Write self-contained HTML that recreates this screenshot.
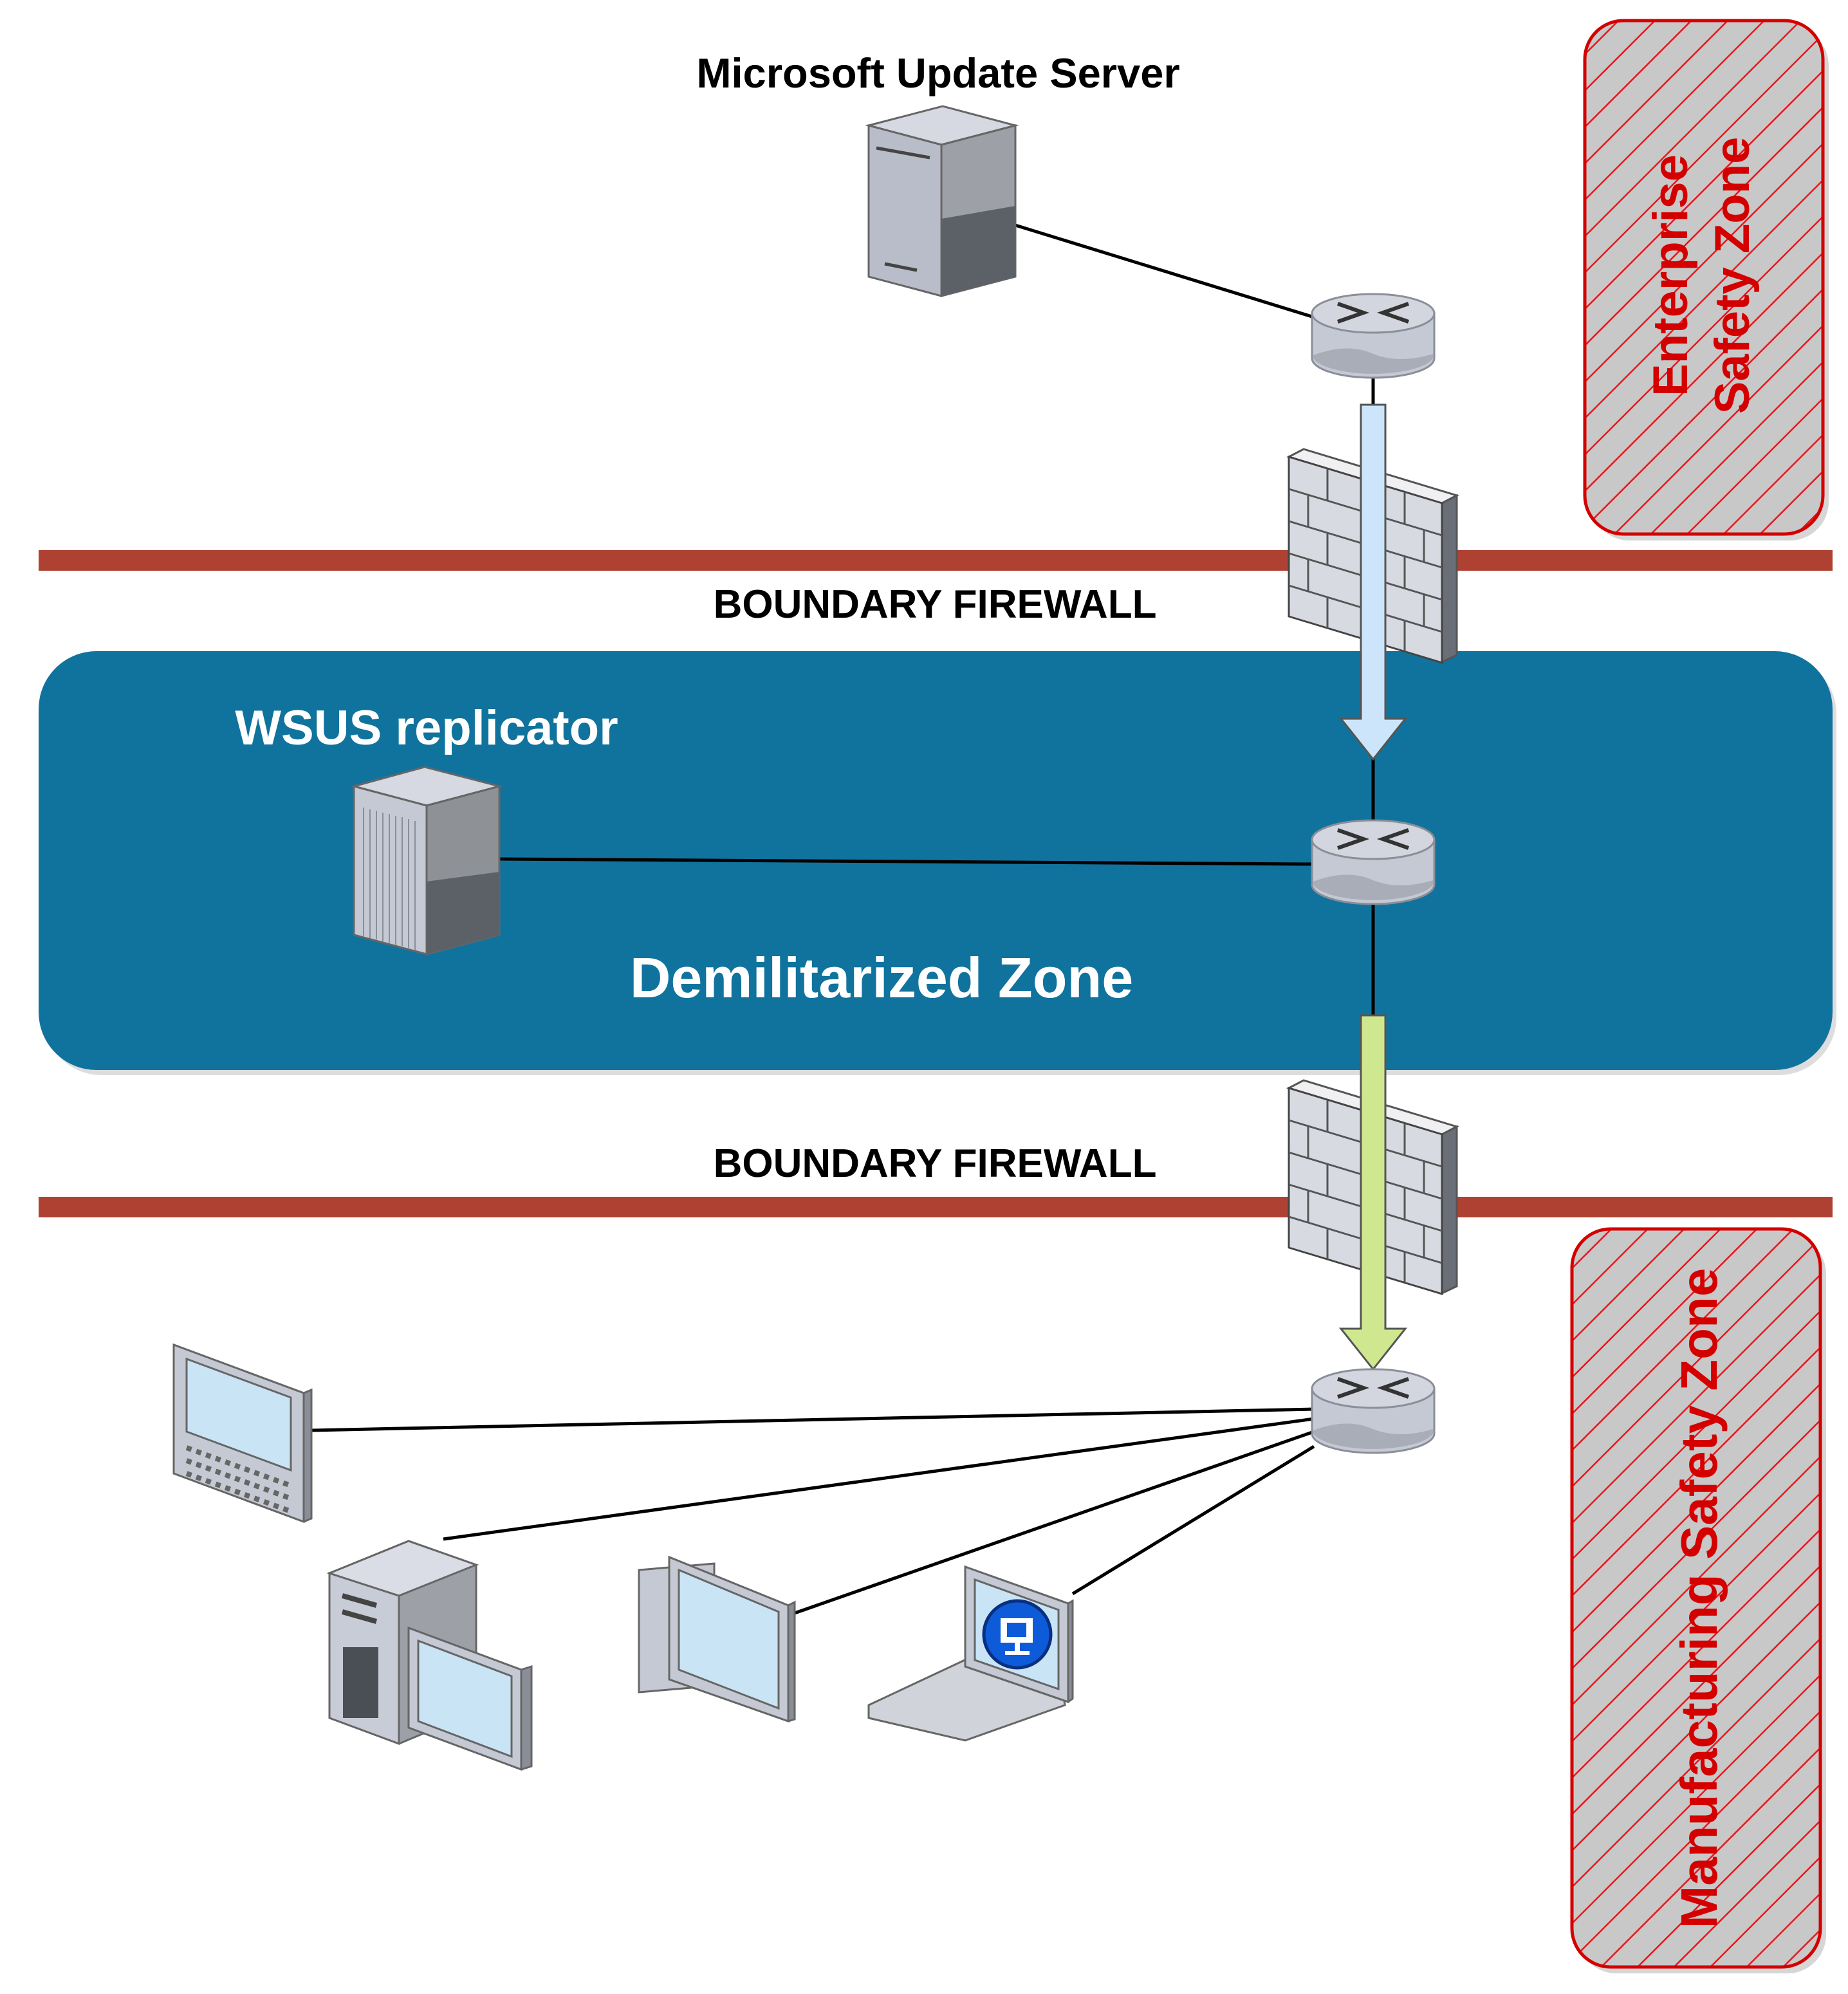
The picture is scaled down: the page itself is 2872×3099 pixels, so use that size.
<!DOCTYPE html>
<html><head><meta charset="utf-8"><style>
html,body{margin:0;padding:0;background:#fff;width:2872px;height:3099px;overflow:hidden}
svg{display:block}
text{font-family:"Liberation Sans",Arial,sans-serif;font-weight:bold}
</style></head><body>
<svg width="2872" height="3099" viewBox="0 0 2872 3099" xmlns="http://www.w3.org/2000/svg">
<defs>
<pattern id="hatch" patternUnits="userSpaceOnUse" width="40" height="40" patternTransform="rotate(45)">
<rect width="40" height="40" fill="#c8c8c8"/>
<line x1="0" y1="0" x2="0" y2="40" stroke="#e8161b" stroke-width="5"/>
</pattern>
<g id="router">
<path d="M-95,-35 L-95,35 A95,30 0 0 0 95,35 L95,-35 Z" fill="#c5c9d3" stroke="#8a8e98" stroke-width="3"/>
<path d="M-93,30 Q-40,10 0,28 Q40,44 93,28 L93,35 A95,30 0 0 1 -93,35 Z" fill="#a8adb8"/>
<ellipse cx="0" cy="-35" rx="95" ry="30" fill="#d3d6df" stroke="#8a8e98" stroke-width="3"/>
<g stroke="#333" stroke-width="6" fill="none">
<path d="M-55,-50 L-15,-36 L-55,-22"/><path d="M55,-50 L15,-36 L55,-22"/>
</g>
</g>
<g id="fw">
<polygon points="2003,710 2026,698 2264,770 2241,782" fill="#f0f0f3" stroke="#555" stroke-width="3"/>
<polygon points="2241,782 2264,770 2264,1018 2241,1029" fill="#6a6e76" stroke="#555" stroke-width="3"/>
<g transform="matrix(1,0.3025,0,1,2003,710)">
<rect x="0" y="0" width="238" height="248" fill="#d8dae2" stroke="#444" stroke-width="3"/>
<g stroke="#555" stroke-width="3">
<line x1="0" y1="50" x2="238" y2="50"/><line x1="0" y1="100" x2="238" y2="100"/>
<line x1="0" y1="150" x2="238" y2="150"/><line x1="0" y1="200" x2="238" y2="200"/>
<line x1="60" y1="0" x2="60" y2="50"/><line x1="180" y1="0" x2="180" y2="50"/>
<line x1="120" y1="50" x2="120" y2="100"/><line x1="30" y1="50" x2="30" y2="100"/><line x1="210" y1="50" x2="210" y2="100"/>
<line x1="60" y1="100" x2="60" y2="150"/><line x1="180" y1="100" x2="180" y2="150"/>
<line x1="120" y1="150" x2="120" y2="200"/><line x1="30" y1="150" x2="30" y2="200"/><line x1="210" y1="150" x2="210" y2="200"/>
<line x1="60" y1="200" x2="60" y2="248"/><line x1="180" y1="200" x2="180" y2="248"/>
</g>
</g>
</g>
</defs>

<!-- Enterprise zone -->
<rect x="2472" y="42" width="370" height="798" rx="60" fill="#bbb" opacity="0.6"/>
<rect x="2463" y="32" width="370" height="798" rx="60" fill="url(#hatch)" stroke="#d40000" stroke-width="5"/>
<text transform="translate(2622,428) rotate(-90)" font-size="76" fill="#d40000" text-anchor="middle">Enterprise</text>
<text transform="translate(2718,428) rotate(-90)" font-size="76" fill="#d40000" text-anchor="middle">Safety Zone</text>

<!-- Manufacturing zone -->
<rect x="2452" y="1920" width="386" height="1147" rx="60" fill="#bbb" opacity="0.6"/>
<rect x="2443" y="1910" width="386" height="1147" rx="60" fill="url(#hatch)" stroke="#d40000" stroke-width="5"/>
<text transform="translate(2668,2484) rotate(-90)" font-size="80" fill="#d40000" text-anchor="middle">Manufacturing Safety Zone</text>

<!-- red boundary lines -->
<rect x="60" y="855" width="2788" height="32" fill="#ae4132"/>
<rect x="60" y="1860" width="2788" height="32" fill="#ae4132"/>

<!-- DMZ -->
<rect x="68" y="1020" width="2786" height="651" rx="90" fill="#bbb" opacity="0.5"/>
<rect x="60" y="1012" width="2788" height="651" rx="90" fill="#10739e"/>

<text x="1458" y="136" font-size="65" text-anchor="middle" fill="#000">Microsoft Update Server</text>
<text x="1453" y="960" font-size="62" text-anchor="middle" fill="#000">BOUNDARY FIREWALL</text>
<text x="1453" y="1829" font-size="62" text-anchor="middle" fill="#000">BOUNDARY FIREWALL</text>
<text x="663" y="1157" font-size="76" text-anchor="middle" fill="#fff">WSUS replicator</text>
<text x="1370" y="1550" font-size="88" text-anchor="middle" fill="#fff">Demilitarized Zone</text>

<!-- connectors -->
<g stroke="#000" stroke-width="5" fill="none">
<line x1="1578" y1="350" x2="2042" y2="493"/>
<line x1="2134" y1="587" x2="2134" y2="632"/>
<line x1="2134" y1="1180" x2="2134" y2="1282"/>
<line x1="776" y1="1335" x2="2042" y2="1343"/>
<line x1="2134" y1="1400" x2="2134" y2="1580"/>
<line x1="2042" y1="2190" x2="484" y2="2223"/>
<line x1="2042" y1="2205" x2="689" y2="2392"/>
<line x1="2042" y1="2225" x2="1235" y2="2507"/>
<line x1="2042" y1="2248" x2="1667" y2="2477"/>
</g>

<!-- firewalls -->
<use href="#fw"/>
<use href="#fw" transform="translate(0,981)"/>

<!-- arrows -->
<polygon points="2115,629 2153,629 2153,1117 2184,1117 2134,1180 2084,1117 2115,1117" fill="#cce5fa" stroke="#555" stroke-width="3"/>
<polygon points="2115,1578 2153,1578 2153,2065 2184,2065 2134,2128 2084,2065 2115,2065" fill="#cfe88f" stroke="#555" stroke-width="3"/>

<!-- routers -->
<use href="#router" transform="translate(2134,522)"/>
<use href="#router" transform="translate(2134,1340)"/>
<use href="#router" transform="translate(2134,2193)"/>

<!-- MS update server -->
<g stroke="#666" stroke-width="3">
<polygon points="1350,195 1465,165 1578,195 1463,225" fill="#d6d9e2"/>
<polygon points="1350,195 1463,225 1463,460 1350,430" fill="#b9bdc9"/>
<polygon points="1463,225 1578,195 1578,430 1463,460" fill="#9da0a6"/>
<polygon points="1463,340 1578,320 1578,430 1463,460" fill="#5c6168" stroke="none"/>
</g>
<line x1="1362" y1="230" x2="1445" y2="245" stroke="#444" stroke-width="5"/>
<line x1="1375" y1="410" x2="1425" y2="420" stroke="#444" stroke-width="5"/>

<!-- WSUS server -->
<g stroke="#666" stroke-width="3">
<polygon points="550,1222 660,1192 776,1222 663,1252" fill="#d6d9e2"/>
<polygon points="550,1222 663,1252 663,1483 550,1453" fill="#c5c9d3"/>
<polygon points="663,1252 776,1222 776,1453 663,1483" fill="#8e9196"/>
<polygon points="663,1370 776,1355 776,1453 663,1483" fill="#5c6168" stroke="none"/>
</g>
<g stroke="#8a8e98" stroke-width="2">
<line x1="565" y1="1255" x2="565" y2="1455"/><line x1="575" y1="1258" x2="575" y2="1458"/>
<line x1="585" y1="1260" x2="585" y2="1460"/><line x1="595" y1="1263" x2="595" y2="1463"/>
<line x1="605" y1="1265" x2="605" y2="1465"/><line x1="615" y1="1268" x2="615" y2="1468"/>
<line x1="625" y1="1270" x2="625" y2="1470"/><line x1="635" y1="1273" x2="635" y2="1473"/>
<line x1="645" y1="1276" x2="645" y2="1476"/>
</g>

<!-- tablet -->
<g stroke="#666" stroke-width="3">
<polygon points="270,2090 472,2165 484,2160 484,2360 472,2365 270,2290" fill="#8a8e98"/>
<polygon points="270,2090 472,2165 472,2365 270,2290" fill="#c5c9d3"/>
<polygon points="290,2112 452,2172 452,2285 290,2225" fill="#c9e4f5"/>
</g>
<g stroke="#666" stroke-width="8" stroke-dasharray="8,8">
<line x1="290" y1="2250" x2="455" y2="2310"/><line x1="290" y1="2270" x2="455" y2="2330"/>
<line x1="290" y1="2290" x2="455" y2="2350"/>
</g>

<!-- desktop tower + monitor -->
<g stroke="#666" stroke-width="3">
<polygon points="512,2445 635,2395 740,2432 740,2660 620,2710 512,2670" fill="#9da0a6"/>
<polygon points="512,2445 620,2480 620,2710 512,2670" fill="#c8ccd6"/>
<polygon points="512,2445 635,2395 740,2432 620,2480" fill="#dadde5"/>
<rect x="533" y="2560" width="55" height="110" fill="#4a4e55" stroke="none"/>
<polygon points="635,2530 810,2595 826,2590 826,2745 810,2750 635,2685" fill="#8a8e98"/>
<polygon points="635,2530 810,2595 810,2750 635,2685" fill="#c5c9d3"/>
<polygon points="650,2550 795,2605 795,2730 650,2675" fill="#c9e4f5"/>
</g>
<line x1="532" y1="2480" x2="585" y2="2495" stroke="#444" stroke-width="8"/>
<line x1="532" y1="2505" x2="585" y2="2520" stroke="#444" stroke-width="8"/>

<!-- PC -->
<g stroke="#666" stroke-width="3">
<polygon points="993,2440 1110,2430 1110,2620 993,2630" fill="#c5c9d3"/>
<polygon points="1040,2420 1225,2495 1235,2490 1235,2672 1225,2675 1040,2610" fill="#8a8e98"/>
<polygon points="1040,2420 1225,2495 1225,2675 1040,2610" fill="#c5c9d3"/>
<polygon points="1055,2440 1210,2505 1210,2655 1055,2595" fill="#c9e4f5"/>
</g>

<!-- laptop -->
<g stroke="#666" stroke-width="3">
<polygon points="1350,2650 1510,2575 1650,2620 1655,2650 1500,2705 1350,2670" fill="#d0d3da"/>
<polygon points="1500,2435 1660,2492 1667,2488 1667,2640 1660,2645 1500,2590" fill="#8a8e98"/>
<polygon points="1500,2435 1660,2492 1660,2645 1500,2590" fill="#c5c9d3"/>
<polygon points="1515,2455 1645,2502 1645,2625 1515,2580" fill="#c9e4f5"/>
</g>
<circle cx="1581" cy="2540" r="52" fill="#0d5bd8" stroke="#0a2f80" stroke-width="5"/>
<rect x="1555" y="2515" width="50" height="38" fill="#fff"/>
<rect x="1565" y="2522" width="30" height="22" fill="#0d5bd8"/>
<rect x="1577" y="2553" width="8" height="15" fill="#fff"/>
<rect x="1562" y="2566" width="38" height="6" fill="#fff"/>
</svg>
</body></html>
